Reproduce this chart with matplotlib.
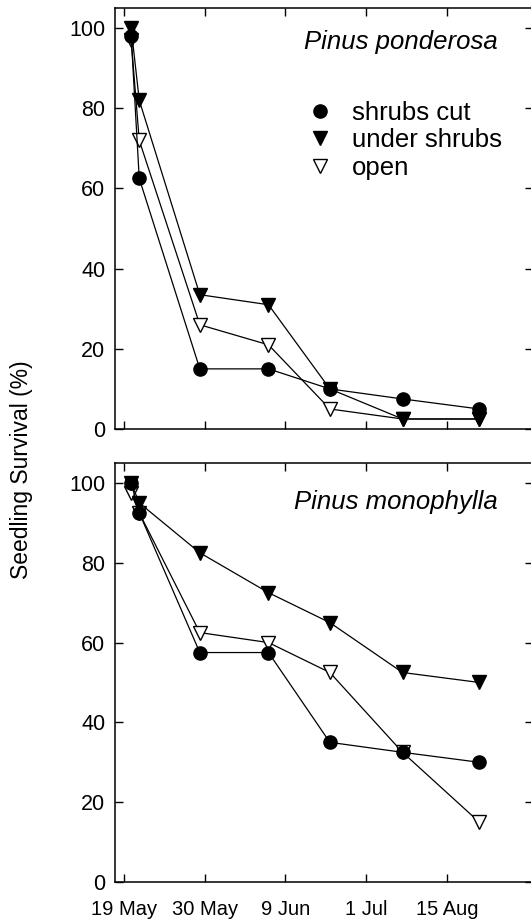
# Seedling survival of two pine species under three shrub treatments

import numpy as np
import matplotlib.pyplot as plt
from matplotlib.lines import Line2D

plt.rcParams['font.family'] = ['Liberation Sans', 'DejaVu Sans']

# sampling dates (positions on the date axis) and tick labels
sample_x = [0.09, 0.19, 0.94, 1.79, 2.55, 3.45, 4.40]
tick_pos = [0, 1, 2, 3, 4]
tick_labels = ['19 May', '30 May', '9 Jun', '1 Jul', '15 Aug']

# Pinus ponderosa
pond_cut = [98, 62.5, 15, 15, 10, 7.5, 5]
pond_under = [100, 82, 33.5, 31, 10, 2.5, 2.5]
pond_open = [97, 72, 26, 21, 5, 2.5, 2.5]

# Pinus monophylla
mono_cut = [100, 92.5, 57.5, 57.5, 35, 32.5, 30]
mono_under = [100, 95, 82.5, 72.5, 65, 52.5, 50]
mono_open = [97.5, 92.5, 62.5, 60, 52.5, 32.5, 15]

series_labels = ['shrubs cut', 'under shrubs', 'open']

styles = [
    dict(marker='o', mfc='black', mec='black', ms=9.5),
    dict(marker='v', mfc='black', mec='black', ms=9.5),
    dict(marker='v', mfc='white', mec='black', ms=9.5, mew=1.0),
]

fig = plt.figure(figsize=(5.31, 9.23), dpi=100)
ax1 = fig.add_axes([0.2166, 0.5352, 0.7864, 0.4561])
ax2 = fig.add_axes([0.2166, 0.0444, 0.7864, 0.4540])


def draw_panel(ax, data, title, title_y):
    # plot open series first so filled markers sit on top
    for vals, st in zip(reversed(data), reversed(styles)):
        ax.plot(sample_x, vals, color='black', lw=0.9, **st)
    ax.set_xlim(-0.11, 5.06)
    ax.set_ylim(0, 105)
    ax.set_yticks(np.arange(0, 101, 20))
    ax.set_xticks(tick_pos)
    ax.tick_params(direction='in', length=6, width=1, top=True, right=True,
                   labelsize=15.5, pad=7)
    for sp in ax.spines.values():
        sp.set_linewidth(1.1)
    ax.text(0.916, title_y, title, transform=ax.transAxes, ha='right', va='center',
            fontsize=18.5, style='italic')


draw_panel(ax1, [pond_cut, pond_under, pond_open], 'Pinus ponderosa', 0.919)
draw_panel(ax2, [mono_cut, mono_under, mono_open], 'Pinus monophylla', 0.907)

ax1.set_xticklabels([])
ax2.set_xticklabels(tick_labels)
ax2.tick_params(axis='x', pad=13, labelsize=14.5)

# legend with markers only
handles = [Line2D([], [], ls='none', **st) for st in styles]
ax1.legend(handles, series_labels, loc='upper left', bbox_to_anchor=(0.46, 0.779),
           frameon=False, fontsize=18.5, borderpad=0, borderaxespad=0,
           handlelength=1.0, handletextpad=0.75, labelspacing=0.13)

fig.text(0.041, 0.491, 'Seedling Survival (%)', rotation=90, ha='center',
         va='center', fontsize=16.5)

plt.savefig('out.png', dpi=100)
